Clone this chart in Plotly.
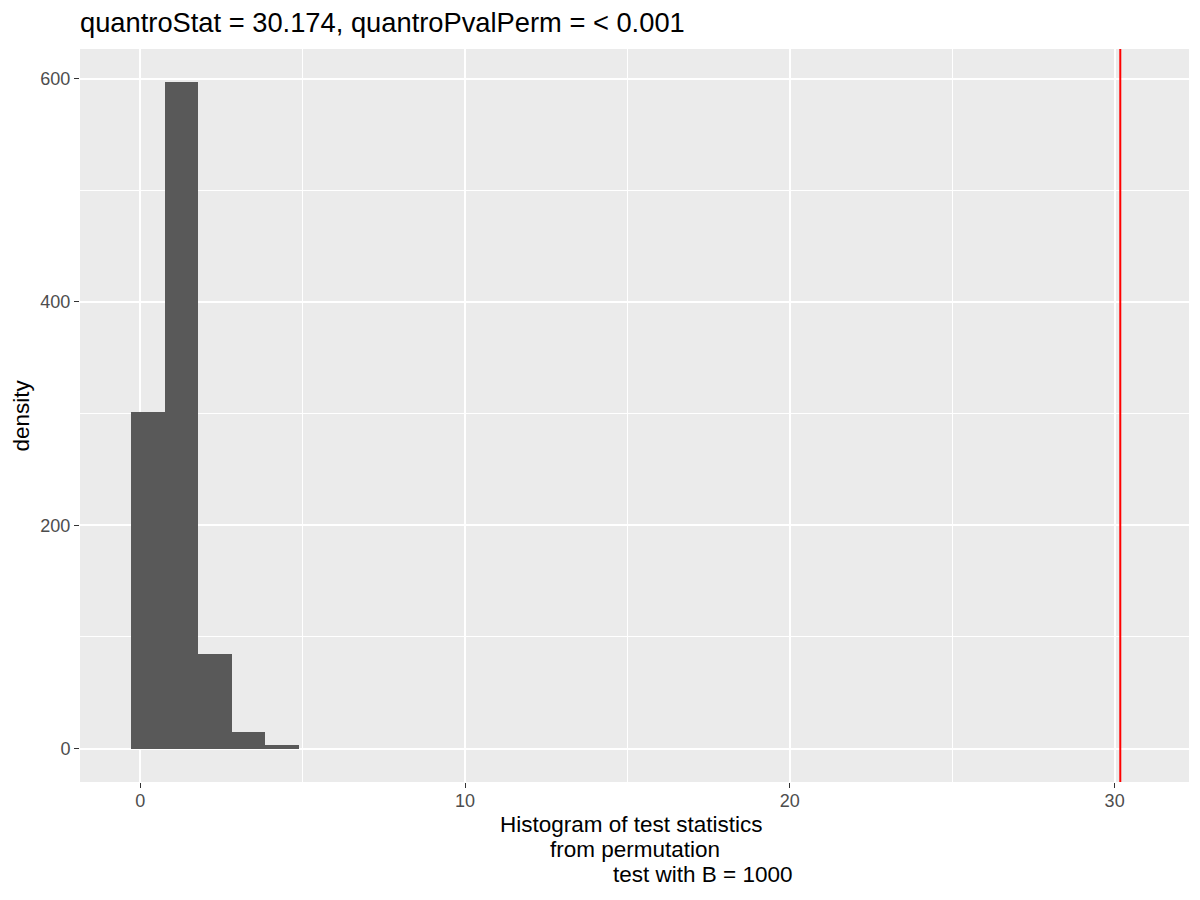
import plotly.graph_objects as go

# Data
bin_centers = [0.231, 1.265, 2.299, 3.333, 4.367]
bin_width = 1.034
density = [301, 597, 84.5, 14.6, 3.0]
quantro_stat = 30.174

title_text = "quantroStat = 30.174, quantroPvalPerm = < 0.001"
xlab_lines = ["Histogram of test statistics", "from permutation", "test with B = 1000"]
ylab = "density"
x_ticks = [0, 10, 20, 30]
y_ticks = [0, 200, 400, 600]

FONT = "Liberation Sans, Arial, sans-serif"
W, H = 1192, 892  # page body adds an 8px margin

fig = go.Figure()
fig.add_trace(go.Bar(
    x=bin_centers, y=density, width=[bin_width] * len(bin_centers),
    marker=dict(color="#595959", line=dict(width=0)),
    showlegend=False, hoverinfo="x+y",
))

fig.add_shape(type="line", xref="x", yref="paper", x0=quantro_stat, x1=quantro_stat,
              y0=0, y1=1, line=dict(color="#FF0000", width=2))

axis_common = dict(
    showline=False, zeroline=False, showgrid=True, gridcolor="white", gridwidth=2,
    ticks="outside", ticklen=5, tickwidth=1.1, tickcolor="#333333",
    tickfont=dict(family=FONT, size=18, color="#4D4D4D"),
)

fig.update_xaxes(range=[-1.857, 32.29], tickvals=x_ticks, ticktext=[str(v) for v in x_ticks],
                 ticklabelstandoff=-3,
                 minor=dict(dtick=5, tick0=0, showgrid=True, gridcolor="white", gridwidth=1, ticks=""),
                 **axis_common)
fig.update_yaxes(range=[-29.9, 626.5], tickvals=y_ticks, ticktext=[str(v) for v in y_ticks],
                 minor=dict(dtick=100, tick0=0, showgrid=True, gridcolor="white", gridwidth=1, ticks=""),
                 **axis_common)

annotations = [
    dict(text=xlab_lines[0], x=0.4974, y=-0.0584, xanchor="center"),
    dict(text=xlab_lines[1], x=0.5, y=-0.0921, xanchor="center"),
    dict(text=xlab_lines[2], x=0.5617, y=-0.1266, xanchor="center"),
]
anns = []
for a in annotations:
    anns.append(dict(xref="paper", yref="paper", showarrow=False, yanchor="middle",
                     font=dict(family=FONT, size=22.5, color="black"), **a))
anns.append(dict(text=ylab, xref="paper", yref="paper", x=-0.0523, y=0.5, showarrow=False,
                 textangle=-90, xanchor="center", yanchor="middle",
                 font=dict(family=FONT, size=22.5, color="black")))

fig.update_layout(
    width=W, height=H,
    paper_bgcolor="white", plot_bgcolor="#EBEBEB",
    margin=dict(l=72, r=11, t=41, b=118, autoexpand=False),
    title=dict(text=title_text, x=72 / W, xanchor="left", xref="container",
               y=1 - 14 / H, yanchor="middle", yref="container",
               font=dict(family=FONT, size=27.3, color="black")),
    annotations=anns,
    bargap=0,
)

fig.write_html("out.html")
